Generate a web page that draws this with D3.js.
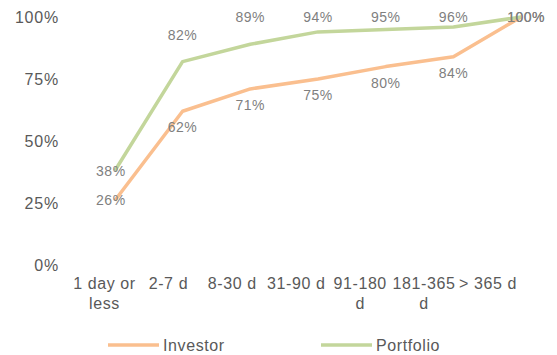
<!DOCTYPE html>
<html><head><meta charset="utf-8">
<script src="https://cdn.jsdelivr.net/npm/d3@7/dist/d3.min.js"></script>
<style>body{margin:0;background:#fff;}svg{display:block;font-family:"Liberation Sans",Arial,sans-serif;}</style>
</head><body>
<svg id="c" width="557" height="355"></svg>
<script>
const categories = [["1 day or","less"],["2-7 d"],["8-30 d"],["31-90 d"],["91-180","d"],["181-365","d"],["> 365 d"]];
const investor = [26, 62, 71, 75, 80, 84, 100];
const portfolio = [38, 82, 89, 94, 95, 96, 100];
const yTicks = [0, 25, 50, 75, 100];
const seriesNames = ["Investor", "Portfolio"];
const investorLabelPos = ["c","b","b","b","b","b","c"];
const portfolioLabelPos = ["c","a","a","a","a","a","a"];

const svg = d3.select("#c");
const x = d3.scaleBand().domain(d3.range(categories.length)).range([81, 555]);
const xLab = d3.scalePoint().domain(d3.range(categories.length)).range([104.5, 488]);
const y = d3.scaleLinear().domain([0, 100]).range([265, 17]);
const cx = i => x(i) + x.bandwidth() / 2;

// y axis labels
const yAxis = d3.axisLeft(y).tickValues(yTicks).tickFormat(d => d + "%").tickSize(0).tickPadding(0);
const gy = svg.append("g").attr("transform", "translate(59,0)").call(yAxis);
gy.select(".domain").remove();
gy.selectAll("text").attr("fill", "#595959").style("font-size", "16px")
  .style("letter-spacing", "0.8px").style("font-family", "Liberation Sans, Arial, sans-serif");

// x labels
const xl = svg.append("g");
categories.forEach((lines, i) => {
  const t = xl.append("text").attr("x", xLab(i)).attr("y", 289).attr("text-anchor", "middle")
    .attr("fill", "#595959").style("font-size", "16px").style("letter-spacing", "0.6px");
  lines.forEach((l, k) => t.append("tspan").attr("x", xLab(i)).attr("dy", k === 0 ? 0 : 20).text(l));
});

const line = d3.line().x((d, i) => cx(i)).y(d => y(d));
const colors = ["#FABF8F", "#C3D69B"];
const data = [investor, portfolio];
const pos = [investorLabelPos, portfolioLabelPos];

data.forEach((s, k) => {
  svg.append("path").datum(s).attr("d", line).attr("fill", "none")
    .attr("stroke", colors[k]).attr("stroke-width", 3.5).attr("stroke-linejoin", "round");
});

data.forEach((s, k) => {
  svg.append("g").selectAll("text").data(s).join("text")
    .attr("x", (d, i) => cx(i) + (i === s.length - 1 ? 5 : 0) - (i === 0 ? 4 : 0))
    .attr("y", (d, i) => {
      const p = pos[k][i];
      let yy = y(d);
      if (p === "b") yy += 16;
      if (p === "a") yy = Math.max(17, yy - 27);
      return yy;
    })
    .attr("dy", "0.35em").attr("text-anchor", "middle")
    .attr("fill", "#7F7F7F").style("font-size", "14px").style("letter-spacing", "0.5px")
    .text(d => d + "%");
});

// legend
const lg = svg.append("g");
const lx = [108, 321];
seriesNames.forEach((n, k) => {
  lg.append("line").attr("x1", lx[k]).attr("x2", lx[k] + 51).attr("y1", 345).attr("y2", 345)
    .attr("stroke", colors[k]).attr("stroke-width", 3.5);
  lg.append("text").attr("x", lx[k] + 55).attr("y", 351).attr("fill", "#595959")
    .style("font-size", "16px").style("letter-spacing", "0.6px").text(n);
});
</script>
</body></html>
